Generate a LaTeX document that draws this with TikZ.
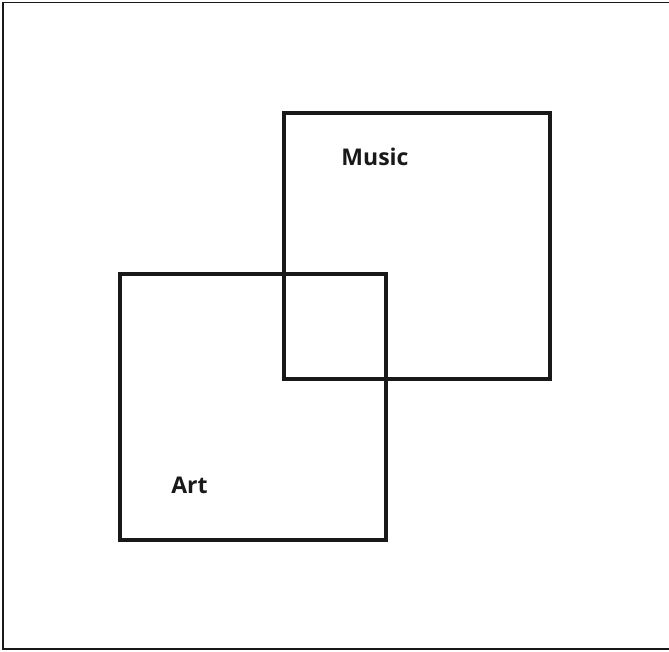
\documentclass[tikz,border=0pt]{standalone}
\usepackage{fontspec}
\setsansfont{Open Sans}
\usepackage{tikz}
\usetikzlibrary{positioning}

\begin{document}
\begin{tikzpicture}[
  x=1pt, y=-1pt,
  sq/.style    = {draw=black!90, line width=3.5pt, minimum width=266pt,
                  minimum height=266pt, inner sep=0pt},
  lbl/.style   = {font=\sffamily\bfseries\fontsize{23}{26}\selectfont,
                  text=black!90, inner sep=0pt},
  frame/.style = {draw=black!90, line width=1.5pt}
]
\useasboundingbox (0,0) rectangle (669,651);
\draw[frame] (672,2.5) -- (3,2.5) -- (3,649) -- (672,649);

\node[sq] (art)   at (253,407) {};
\node[sq] (music) at (417,246) {};

\node[lbl] (musiclbl) at (375,157) {Music};
\node[lbl] (artlbl)   at (189.5,485) {Art};
\end{tikzpicture}
\end{document}
